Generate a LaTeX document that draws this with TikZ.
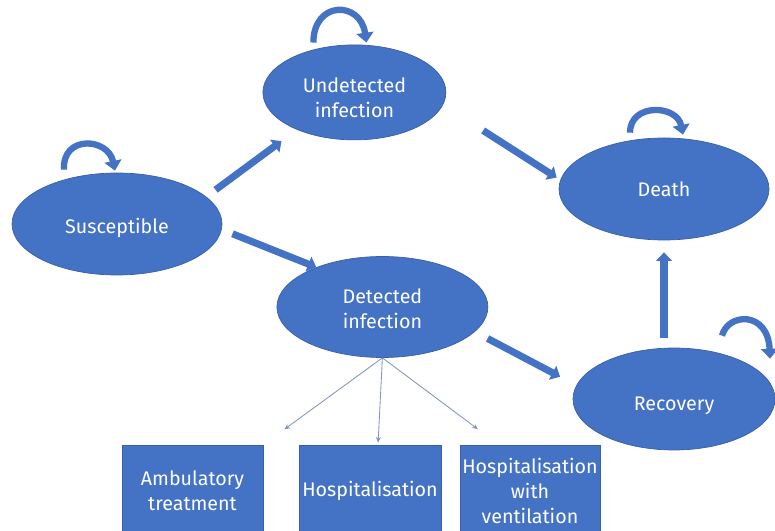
\documentclass[tikz,border=0pt]{standalone}
\usepackage{fontspec}
\setmainfont{Fira Sans}
\usetikzlibrary{shapes.geometric,arrows.meta}

\begin{document}
\begin{tikzpicture}[state/.style={ellipse, fill=stBlue, draw=stEdge, line width=0.5pt, text=white, align=center, inner sep=0pt, font=\fontsize{14}{18}\selectfont}, care/.style={rectangle, fill=stBlue, draw=stEdge, line width=0.5pt, text=white, align=center, inner sep=1pt, minimum height=2.3cm, font=\fontsize{14}{18}\selectfont}, flow/.style={-{Triangle[length=6pt, width=11pt]}, line width=5pt, stBlue}, self/.style={-{Triangle[length=7pt, width=12pt]}, line width=4.5pt, stBlue}, branch/.style={-{Stealth[length=4pt, width=3.5pt]}, line width=0.6pt, stThin}]
\definecolor{stBlue}{RGB}{68,114,196}
\definecolor{stEdge}{RGB}{56,96,168}
\definecolor{stThin}{RGB}{128,148,188}
\useasboundingbox (0,0) rectangle (19.375,13.25);
\clip (0,0) rectangle (19.375,13.25);
\node[state, minimum width=5.25cm, minimum height=2.55cm, text height=17pt] (sus) at (2.925,7.65) {Susceptible};
\node[state, minimum width=4.575cm, minimum height=2.375cm, text height=36pt] (und) at (8.86,10.94) {Undetected\\infection};
\node[state, minimum width=5.25cm, minimum height=2.55cm] (death) at (16.6,8.525) {Death};
\node[state, minimum width=5.275cm, minimum height=2.525cm, text height=30.5pt] (det) at (9.56,5.575) {Detected\\infection};
\node[state, minimum width=5.05cm, minimum height=2.55cm, text height=20pt] (rec) at (16.85,3.275) {Recovery};
\node[care, minimum width=3.525cm] (amb) at (4.8125,0.975) {Ambulatory\\treatment};
\node[care, minimum width=3.55cm] (hosp) at (9.25,0.975) {Hospitalisation};
\node[care, minimum width=3.5cm] (vent) at (13.25,0.975) {Hospitalisation\\with\\ventilation};
\draw[flow, shorten <=0.29cm, shorten >=0.48cm] (sus.17) -- (und.213);
\draw[flow, shorten <=0.29cm] (sus.-3) -- (det.149);
\draw[flow, shorten <=1.19cm, shorten >=0.11cm] (und.-8) -- (death.175);
\draw[flow, shorten <=0.36cm, shorten >=0.46cm] (det.-15) -- (rec.172);
\draw[flow, shorten <=0.23cm, shorten >=0.3cm] (death.south |- rec.north) -- (death.south);
\draw[self] ([shift={(-1.325,0.075)}]sus.north) .. controls +(-0.05,0.875) and +(-0.175,0.825) .. ([shift={(-0.05,0.05)}]sus.north);
\draw[self] ([shift={(-1.025,0.05)}]und.north) .. controls +(0,1.05) and +(-0.15,1.05) .. ([shift={(0.3,0.05)}]und.north);
\draw[self] ([shift={(-0.85,0.125)}]death.north) .. controls +(0,0.75) and +(-0.15,0.75) .. ([shift={(0.475,0.075)}]death.north);
\draw[self] ([shift={(1.2,0.3)}]rec.north) .. controls +(0.15,0.575) and +(-0.05,1.2) .. ([shift={(2.4,-0.275)}]rec.north);
\draw[branch, shorten >=0.65cm] (det.south) -- (amb.north east);
\draw[branch, shorten >=0.05cm] (det.south) -- ([xshift=0.2cm]hosp.north);
\draw[branch, shorten >=0.65cm] (det.south) -- ([xshift=0.975cm]vent.north west);
\end{tikzpicture}
\end{document}
